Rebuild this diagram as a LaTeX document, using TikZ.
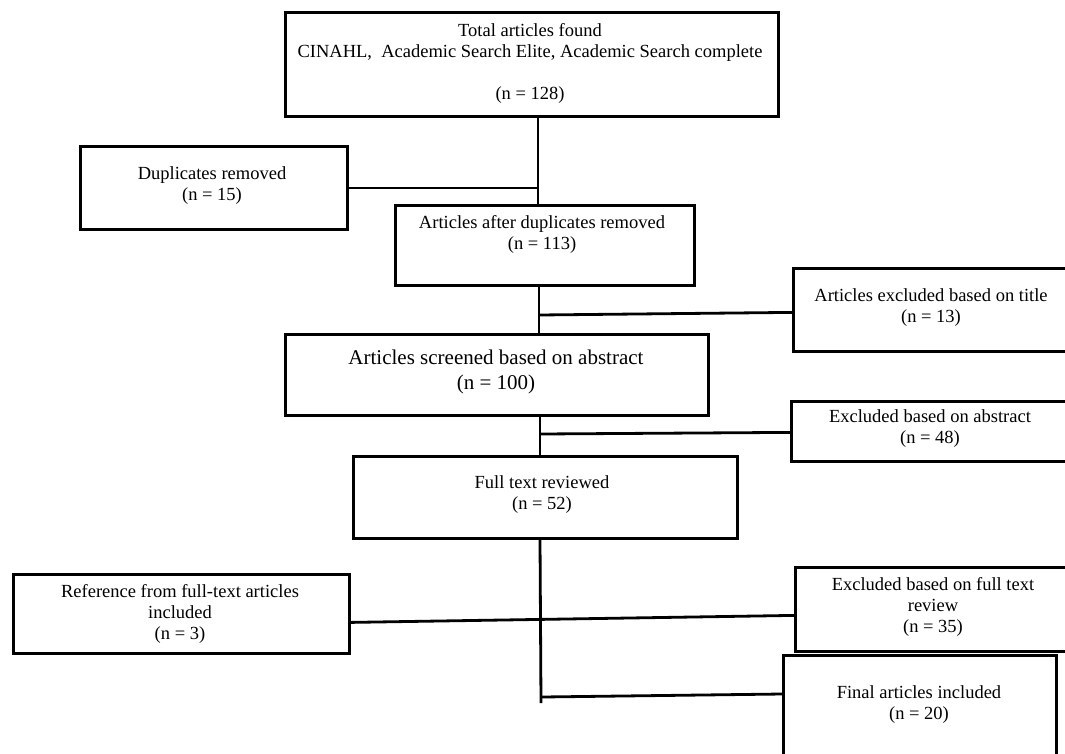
\documentclass[tikz,border=0pt]{standalone}
\usepackage{fontspec}
\setmainfont{Liberation Serif}
\begin{document}
\begin{tikzpicture}[x=1pt,y=-1pt,
  box/.style={draw, line width=2.8pt, inner sep=0pt, anchor=north west},
  txt/.style={align=center, inner sep=0pt, font=\fontsize{18.5}{21}\selectfont},
  bigtxt/.style={align=center, inner sep=0pt, font=\fontsize{21}{25}\selectfont},
  conn/.style={line width=2.8pt}]
\useasboundingbox (0,0) rectangle (1065,753);
\clip (0,0) rectangle (1065,753);
\fill[white] (0,0) rectangle (1065,753);
% boxes
\node[box, minimum width=493pt, minimum height=104pt] (top)   at (284,11) {};
\node[box, minimum width=267pt, minimum height=83pt]  (dup)   at (79,145) {};
\node[box, minimum width=299pt, minimum height=80pt]  (after) at (394,204) {};
\node[box, minimum width=300pt, minimum height=83pt]  (title) at (792,267) {};
\node[box, minimum width=423pt, minimum height=81pt]  (scr)   at (284,333) {};
\node[box, minimum width=300pt, minimum height=60pt]  (exab)  at (790,400) {};
\node[box, minimum width=384pt, minimum height=82pt]  (full)  at (352,455) {};
\node[box, minimum width=336pt, minimum height=79pt]  (ref)   at (12,573) {};
\node[box, minimum width=300pt, minimum height=84pt]  (exft)  at (794,566) {};
\node[box, minimum width=273pt, minimum height=115pt] (final) at (782,654) {};
% texts
\node[txt] (topt) at (530,63) {Total articles found\\CINAHL,\ \ Academic Search Elite, Academic Search complete\\[21pt](n = 128)};
\node[txt] (dupt) at (212,186) {Duplicates removed\\(n = 15)};
\node[txt] (aftert) at (542,234) {Articles after duplicates removed\\(n = 113)};
\node[txt] (titlet) at (931,308) {Articles excluded based on title\\(n = 13)};
\node[bigtxt] (scrt) at (496,372) {Articles screened based on abstract\\(n = 100)};
\node[txt] (exabt) at (930,429) {Excluded based on abstract\\(n = 48)};
\node[txt] (fullt) at (542,495) {Full text reviewed\\(n = 52)};
\node[txt] (reft) at (180,614) {Reference from full-text articles\\included\\(n = 3)};
\node[txt] (exftt) at (933,607) {Excluded based on full text\\review\\(n = 35)};
\node[txt] (finalt) at (919,705) {Final articles included\\(n = 20)};
% spine coordinates
\coordinate (s1) at (538,0);
\coordinate (s2) at (539,0);
\coordinate (s3) at (540,0);
\coordinate (j2) at (539,315);
\coordinate (j3) at (540,434);
\coordinate (j5) at (542,697);
\coordinate (endv) at (541,703);
% connectors
\draw[conn] (top.south -| s1) -- (after.north -| s1);
\draw[conn] (dup.east) -- (dup.east -| s1);
\draw[conn] (after.south -| s2) -- (scr.north -| s2);
\draw[conn] (j2) -- ([yshift=-2.5pt]title.west);
\draw[conn] (scr.south -| s3) -- (full.north -| s3);
\draw[conn] (j3) -- ([yshift=-1pt]exab.west);
\draw[conn] (full.south -| s3) -- (endv);
\draw[conn] ([yshift=-8.5pt]ref.east) -- ([yshift=-6pt]exft.west);
\draw[conn] (j5) -- ([yshift=-40pt]final.north west);
\end{tikzpicture}
\end{document}
